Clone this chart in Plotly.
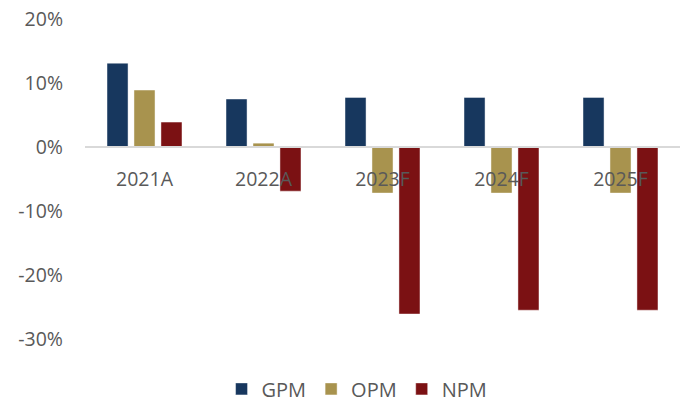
import plotly.graph_objects as go

categories = ["2021A", "2022A", "2023F", "2024F", "2025F"]
gpm = [0.131, 0.075, 0.0775, 0.0775, 0.0775]
opm = [0.089, 0.006, -0.072, -0.072, -0.072]
npm = [0.039, -0.069, -0.261, -0.255, -0.255]
y_ticks = [-0.3, -0.2, -0.1, 0, 0.1, 0.2]
y_tick_labels = ["-30%", "-20%", "-10%", "0%", "10%", "20%"]

series = [("GPM", gpm, "#17375E"), ("OPM", opm, "#A8934E"), ("NPM", npm, "#7B1113")]

fig = go.Figure()
for name, vals, col in series:
    fig.add_trace(go.Bar(
        x=categories, y=vals, name=name,
        marker=dict(color=col, line=dict(color="rgba(255,255,255,0.45)", width=1)),
    ))

ymin, ymax = -0.3, 0.2
fig.update_layout(
    width=684, height=403,
    margin=dict(l=85, r=4, t=19, b=64, autoexpand=False),
    paper_bgcolor="white", plot_bgcolor="white",
    barmode="group", bargap=0.32, bargroupgap=0.22,
    font=dict(family="Open Sans", size=19, color="#595959"),
    showlegend=True,
    legend=dict(orientation="h", xref="container", x=0.522, xanchor="center",
                yref="container", y=0.035, yanchor="middle",
                font=dict(size=20, color="#595959"), itemwidth=30, traceorder="normal"),
    yaxis=dict(range=[ymin, ymax], tickvals=y_ticks, ticktext=y_tick_labels,
               showgrid=False, zeroline=False, showline=False,
               ticklabelstandoff=21, tickfont=dict(size=19.5, color="#595959")),
    xaxis=dict(anchor="free", position=(0 - ymin) / (ymax - ymin), showline=True,
               linecolor="#D9D9D9", linewidth=1.5, showgrid=False, zeroline=False,
               ticks="", ticklabelstandoff=15, tickfont=dict(size=19.5, color="#595959")),
)

fig.write_html("out.html")
